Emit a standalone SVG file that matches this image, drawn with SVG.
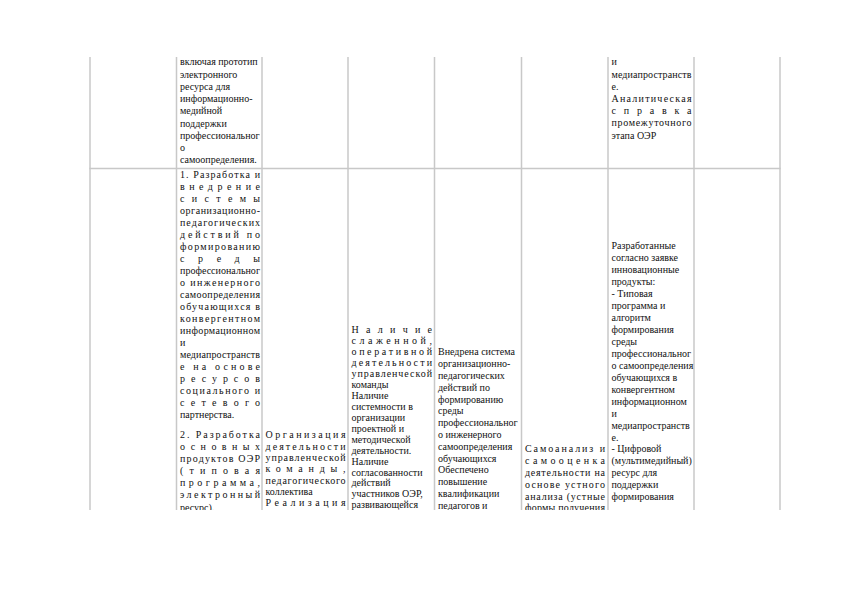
<svg xmlns="http://www.w3.org/2000/svg" width="842" height="595" viewBox="0 0 842 595">
<style>
.t{font-family:"Liberation Serif","Times New Roman",serif;font-size:10px;fill:#111}
.g line{stroke:#c8c8c8;stroke-width:1.5}
</style>
<defs>
<clipPath id="pg"><rect x="0" y="0" width="842" height="510"/></clipPath>
</defs>
<rect width="842" height="595" fill="#fff"/>
<g id="grid" class="g">
<line x1="90" y1="57" x2="90" y2="510"/>
<line x1="176.5" y1="57" x2="176.5" y2="510"/>
<line x1="262" y1="57" x2="262" y2="510"/>
<line x1="348" y1="57" x2="348" y2="510"/>
<line x1="434.5" y1="57" x2="434.5" y2="510"/>
<line x1="521.5" y1="57" x2="521.5" y2="510"/>
<line x1="608" y1="57" x2="608" y2="510"/>
<line x1="694" y1="57" x2="694" y2="510"/>
<line x1="780" y1="57" x2="780" y2="510"/>
<line x1="89.25" y1="168.5" x2="780.75" y2="168.5"/>
</g>
<g clip-path="url(#pg)">
<g id="r1c2">
<text class="t" x="180" y="65.3">включая прототип</text>
<text class="t" x="180" y="77.55">электронного</text>
<text class="t" x="180" y="89.8">ресурса для</text>
<text class="t" x="180" y="102.05">информационно-</text>
<text class="t" x="180" y="114.3">медийной</text>
<text class="t" x="180" y="126.55">поддержки</text>
<text class="t" x="180" y="138.8">профессиональног</text>
<text class="t" x="180" y="151.05">о</text>
<text class="t" x="180" y="163.3">самоопределения.</text>
</g>
<g id="r1c7">
<text class="t" x="611.5" y="65.3">и</text>
<text class="t" x="611.5" y="77.5" textLength="80" lengthAdjust="spacing">медиапространств</text>
<text class="t" x="611.5" y="89.7">е.</text>
<text class="t" x="611.5" y="101.9" textLength="80" lengthAdjust="spacing">Аналитическая</text>
<text class="t" x="611.5" y="114.1" textLength="80" lengthAdjust="spacing">справка</text>
<text class="t" x="611.5" y="126.3" textLength="80" lengthAdjust="spacing">промежуточного</text>
<text class="t" x="611.5" y="138.5">этапа ОЭР</text>
</g>
<g id="r2c2">
<text class="t" x="180" y="178.3" textLength="80" lengthAdjust="spacing">1. Разработка и</text>
<text class="t" x="180" y="190.3" textLength="80" lengthAdjust="spacing">внедрение</text>
<text class="t" x="180" y="202.3" textLength="80" lengthAdjust="spacing">системы</text>
<text class="t" x="180" y="214.3" textLength="80" lengthAdjust="spacing">организационно-</text>
<text class="t" x="180" y="226.3" textLength="80" lengthAdjust="spacing">педагогических</text>
<text class="t" x="180" y="238.3" textLength="80" lengthAdjust="spacing">действий по</text>
<text class="t" x="180" y="250.3" textLength="80" lengthAdjust="spacing">формированию</text>
<text class="t" x="180" y="262.3" textLength="80" lengthAdjust="spacing">среды</text>
<text class="t" x="180" y="274.3" textLength="80" lengthAdjust="spacing">профессиональног</text>
<text class="t" x="180" y="286.3" textLength="80" lengthAdjust="spacing">о инженерного</text>
<text class="t" x="180" y="298.3" textLength="80" lengthAdjust="spacing">самоопределения</text>
<text class="t" x="180" y="310.3" textLength="80" lengthAdjust="spacing">обучающихся в</text>
<text class="t" x="180" y="322.3" textLength="80" lengthAdjust="spacing">конвергентном</text>
<text class="t" x="180" y="334.3" textLength="80" lengthAdjust="spacing">информационном</text>
<text class="t" x="180" y="346.3">и</text>
<text class="t" x="180" y="358.3" textLength="80" lengthAdjust="spacing">медиапространств</text>
<text class="t" x="180" y="370.3" textLength="80" lengthAdjust="spacing">е на основе</text>
<text class="t" x="180" y="382.3" textLength="80" lengthAdjust="spacing">ресурсов</text>
<text class="t" x="180" y="394.3" textLength="80" lengthAdjust="spacing">социального и</text>
<text class="t" x="180" y="406.3" textLength="80" lengthAdjust="spacing">сетевого</text>
<text class="t" x="180" y="418.3">партнерства.</text>
<text class="t" x="180" y="438.3" textLength="80" lengthAdjust="spacing">2. Разработка</text>
<text class="t" x="180" y="450.3" textLength="80" lengthAdjust="spacing">основных</text>
<text class="t" x="180" y="462.3" textLength="80" lengthAdjust="spacing">продуктов ОЭР</text>
<text class="t" x="180" y="474.3" textLength="80" lengthAdjust="spacing">(типовая</text>
<text class="t" x="180" y="486.3" textLength="80" lengthAdjust="spacing">программа,</text>
<text class="t" x="180" y="498.3" textLength="80" lengthAdjust="spacing">электронный</text>
<text class="t" x="180" y="511">ресурс).</text>
</g>
<g id="r2c3">
<text class="t" x="265.5" y="438.3" textLength="80" lengthAdjust="spacing">Организация</text>
<text class="t" x="265.5" y="449.6" textLength="80" lengthAdjust="spacing">деятельности</text>
<text class="t" x="265.5" y="460.9" textLength="80" lengthAdjust="spacing">управленческой</text>
<text class="t" x="265.5" y="472.2" textLength="80" lengthAdjust="spacing">команды,</text>
<text class="t" x="265.5" y="483.5" textLength="80" lengthAdjust="spacing">педагогического</text>
<text class="t" x="265.5" y="494.8">коллектива</text>
<text class="t" x="265.5" y="506.1" textLength="80" lengthAdjust="spacing">Реализация</text>
</g>
<g id="r2c4">
<text class="t" x="351.5" y="333.3" textLength="80.5" lengthAdjust="spacing">Наличие</text>
<text class="t" x="351.5" y="344.24" textLength="80.5" lengthAdjust="spacing">слаженной,</text>
<text class="t" x="351.5" y="355.18" textLength="80.5" lengthAdjust="spacing">оперативной</text>
<text class="t" x="351.5" y="366.12" textLength="80.5" lengthAdjust="spacing">деятельности</text>
<text class="t" x="351.5" y="377.06" textLength="80.5" lengthAdjust="spacing">управленческой</text>
<text class="t" x="351.5" y="388">команды</text>
<text class="t" x="351.5" y="398.94">Наличие</text>
<text class="t" x="351.5" y="409.88">системности в</text>
<text class="t" x="351.5" y="420.82">организации</text>
<text class="t" x="351.5" y="431.76">проектной и</text>
<text class="t" x="351.5" y="442.7">методической</text>
<text class="t" x="351.5" y="453.64">деятельности.</text>
<text class="t" x="351.5" y="464.58">Наличие</text>
<text class="t" x="351.5" y="475.52">согласованности</text>
<text class="t" x="351.5" y="486.46">действий</text>
<text class="t" x="351.5" y="497.4">участников ОЭР,</text>
<text class="t" x="351.5" y="508.34">развивающейся</text>
</g>
<g id="r2c5">
<text class="t" x="438" y="355.3">Внедрена система</text>
<text class="t" x="438" y="367.1">организационно-</text>
<text class="t" x="438" y="378.9">педагогических</text>
<text class="t" x="438" y="390.7">действий по</text>
<text class="t" x="438" y="402.5">формированию</text>
<text class="t" x="438" y="414.3">среды</text>
<text class="t" x="438" y="426.1">профессиональног</text>
<text class="t" x="438" y="437.9">о инженерного</text>
<text class="t" x="438" y="449.7">самоопределения</text>
<text class="t" x="438" y="461.5">обучающихся</text>
<text class="t" x="438" y="473.3">Обеспечено</text>
<text class="t" x="438" y="485.1">повышение</text>
<text class="t" x="438" y="496.9">квалификации</text>
<text class="t" x="438" y="508.7">педагогов и</text>
</g>
<g id="r2c6">
<text class="t" x="525" y="452.3" textLength="80" lengthAdjust="spacing">Самоанализ и</text>
<text class="t" x="525" y="464.1" textLength="80" lengthAdjust="spacing">самооценка</text>
<text class="t" x="525" y="475.9" textLength="80" lengthAdjust="spacing">деятельности на</text>
<text class="t" x="525" y="487.7" textLength="80" lengthAdjust="spacing">основе устного</text>
<text class="t" x="525" y="499.5" textLength="80" lengthAdjust="spacing">анализа (устные</text>
<text class="t" x="525" y="511.3" textLength="80" lengthAdjust="spacing">формы получения</text>
</g>
<g id="r2c7">
<text class="t" x="611.5" y="249.3">Разработанные</text>
<text class="t" x="611.5" y="261.25">согласно заявке</text>
<text class="t" x="611.5" y="273.2">инновационные</text>
<text class="t" x="611.5" y="285.15">продукты:</text>
<text class="t" x="611.5" y="297.1">- Типовая</text>
<text class="t" x="611.5" y="309.05">программа и</text>
<text class="t" x="611.5" y="321">алгоритм</text>
<text class="t" x="611.5" y="332.95">формирования</text>
<text class="t" x="611.5" y="344.9">среды</text>
<text class="t" x="611.5" y="356.85">профессиональног</text>
<text class="t" x="611.5" y="368.8">о самоопределения</text>
<text class="t" x="611.5" y="380.75">обучающихся в</text>
<text class="t" x="611.5" y="392.7">конвергентном</text>
<text class="t" x="611.5" y="404.65">информационном</text>
<text class="t" x="611.5" y="416.6">и</text>
<text class="t" x="611.5" y="428.55">медиапространств</text>
<text class="t" x="611.5" y="440.5">е.</text>
<text class="t" x="611.5" y="452.45">- Цифровой</text>
<text class="t" x="611.5" y="464.4">(мультимедийный)</text>
<text class="t" x="611.5" y="476.35">ресурс для</text>
<text class="t" x="611.5" y="488.3">поддержки</text>
<text class="t" x="611.5" y="500.25">формирования</text>
</g>
</g>
</svg>
